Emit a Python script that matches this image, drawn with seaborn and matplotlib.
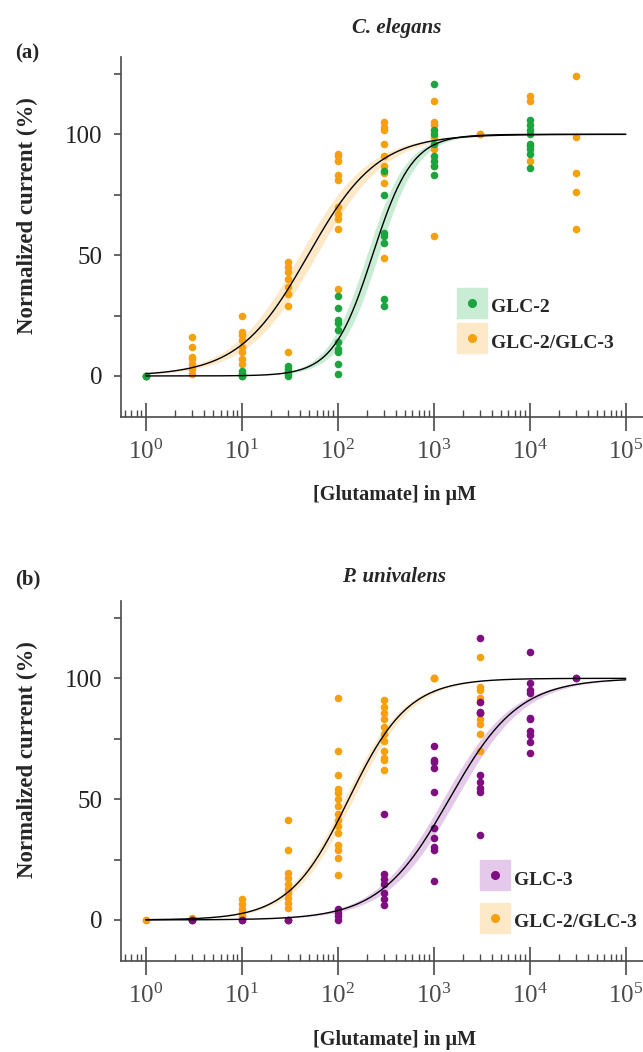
import numpy as np
import pandas as pd
import matplotlib
matplotlib.use('Agg')
import matplotlib.pyplot as plt
import seaborn as sns
from matplotlib.lines import Line2D
from matplotlib.legend_handler import HandlerTuple
from matplotlib.ticker import LogLocator, MultipleLocator, LogFormatterSciNotation, NullFormatter

sns.set_theme(style="ticks")
plt.rcParams['font.family'] = ['Liberation Serif', 'DejaVu Serif']
plt.rcParams['mathtext.fontset'] = 'stix'

# --- datos (concentraciones en µM, respuesta normalizada en %) ---
conc_levels = [1, 3, 10, 30, 100, 300, 1000, 3000, 10000, 30000]

# C. elegans
ce_glc2 = [[0, 0, 0], [], [0, 1, 2, 0, 1], [0, 1, 2, 3, 4],
           [33, 28, 23, 22, 19, 14, 11, 10, 5, 1],
           [85, 75, 59, 58, 55, 32, 29],
           [121, 102, 100, 96, 91, 89, 87, 83], [],
           [106, 104, 102, 100, 96, 95, 94, 92, 86], []]
ce_glc23 = [[0], [16, 12, 8, 7, 5, 3, 1], [25, 18, 17, 15, 12, 10, 7, 5],
            [47, 45, 43, 40, 37, 34, 29, 10],
            [92, 91, 89, 83, 81, 70, 67, 65, 61, 36],
            [105, 103, 102, 96, 91, 87, 84, 80, 49],
            [114, 105, 104, 99, 94, 87, 58], [100, 100],
            [116, 114, 89], [124, 99, 84, 76, 61]]

# P. univalens
pu_glc3 = [[], [0, 0], [0, 0], [0, 0], [4.4, 3, 1.6, 0],
           [44, 19, 17, 15, 11, 8.5, 6],
           [72, 66, 65.5, 63, 53, 38, 34, 30, 29, 16],
           [116.5, 90, 86, 85.5, 60, 57, 54.6, 53, 35],
           [111, 98, 95, 94, 83.5, 83, 78, 76.6, 73.5, 69], [100, 100]]
pu_glc23 = [[0, 0], [0, 1], [8.5, 6.5, 4.4, 3, 1.5],
            [41.5, 29, 19.5, 17.5, 15, 13, 11, 9, 7, 5, 0],
            [92, 70, 60, 54, 52.5, 50, 47, 44, 41.5, 39, 36, 31, 29, 25.5, 18.5],
            [91, 88, 85.5, 83, 80, 77, 74, 70, 67, 66, 62],
            [100, 100, 100], [109, 96.5, 95, 92, 90, 85.5, 83, 81, 77, 70], [], []]

# parámetros de ajuste Hill: EC50, pendiente, EC50 bajo/alto (banda)
fit_ce_glc2 = (230, 2.1, 200, 265)
fit_ce_glc23 = (49, 1.2, 40, 60)
fit_pu_glc3 = (1450, 1.2, 1250, 1700)
fit_pu_glc23 = (130, 1.4, 117, 145)

GREEN, ORANGE, PURPLE = '#1ea43f', '#f5a10f', '#7d0f80'
GREEN_B, ORANGE_B, PURPLE_B = '#c9ecd4', '#fde9c8', '#e5c9ea'
GRAY = '#4a4a4a'


def to_df(levels, values, name):
    rows = [(c, v, name) for c, vals in zip(levels, values) for v in vals]
    return pd.DataFrame(rows, columns=['conc', 'resp', 'grupo'])


def hill(x, ec50, n):
    return 100 * x ** n / (x ** n + ec50 ** n)


xs = np.logspace(0, 5, 300)


def draw_panel(ax, series):
    for vals, fit, col, band, name in series:
        ec50, n, lo, hi = fit
        ax.fill_between(xs, hill(xs, hi, n), hill(xs, lo, n), color=band, lw=0, zorder=1)
    for vals, fit, col, band, name in series:
        df = to_df(conc_levels, vals, name)
        sns.scatterplot(data=df, x='conc', y='resp', color=col, s=30, linewidth=0,
                        ax=ax, zorder=3, legend=False)
    for vals, fit, col, band, name in series:
        ec50, n, lo, hi = fit
        sns.lineplot(x=xs, y=hill(xs, ec50, n), color='black', lw=1.0, ax=ax, zorder=4)

    ax.set_xscale('log')
    ax.set_xlim(10 ** -0.26, 10 ** 5.18)
    ax.set_ylim(-17, 132)
    ax.set_xlabel('')
    ax.set_ylabel('')
    sns.despine(ax=ax)
    for s in ['left', 'bottom']:
        ax.spines[s].set_color(GRAY)
        ax.spines[s].set_linewidth(1.2)
    ax.xaxis.set_major_locator(LogLocator(base=10, numticks=10))
    ax.xaxis.set_minor_locator(LogLocator(base=10, subs=np.arange(2, 10), numticks=20))
    ax.xaxis.set_major_formatter(LogFormatterSciNotation())
    ax.xaxis.set_minor_formatter(NullFormatter())
    ax.set_xticks([1, 10, 100, 1000, 10000, 100000])
    ax.set_yticks([0, 50, 100])
    ax.yaxis.set_minor_locator(MultipleLocator(25))
    ax.tick_params(axis='x', which='major', direction='inout', length=20, width=1.2,
                   color=GRAY, labelsize=18, labelcolor=GRAY, pad=6)
    ax.tick_params(axis='x', which='minor', direction='in', length=5, width=1.0, color=GRAY)
    ax.tick_params(axis='y', which='both', direction='out', length=5, width=1.2,
                   color=GRAY, labelsize=18, labelcolor='#222222', pad=8)

    # leyenda: cuadro de color claro con el punto encima
    handles = []
    labels = []
    for vals, fit, col, band, name in series[::-1]:
        handles.append((Line2D([], [], marker='s', color=band, ls='none', markersize=22),
                        Line2D([], [], marker='o', color=col, ls='none', markersize=5.5)))
        labels.append(name)
    return handles, labels


fig = plt.figure(figsize=(6.43, 10.52), dpi=100)
ax1 = fig.add_axes([0.188, 0.6036, 0.812, 0.3422])
ax2 = fig.add_axes([0.188, 0.0865, 0.812, 0.3422])

h1, l1 = draw_panel(ax1, [(ce_glc23, fit_ce_glc23, ORANGE, ORANGE_B, 'GLC-2/GLC-3'),
                          (ce_glc2, fit_ce_glc2, GREEN, GREEN_B, 'GLC-2')])
h2, l2 = draw_panel(ax2, [(pu_glc23, fit_pu_glc23, ORANGE, ORANGE_B, 'GLC-2/GLC-3'),
                          (pu_glc3, fit_pu_glc3, PURPLE, PURPLE_B, 'GLC-3')])

leg_kw = dict(handler_map={tuple: HandlerTuple(ndivide=1, pad=0)}, handlelength=1.55,
              handleheight=1.6, frameon=False, prop=dict(weight='bold', size=14),
              handletextpad=0.2, loc='upper left', borderaxespad=0, borderpad=0)
ax1.legend(h1, l1, bbox_to_anchor=(0.643, 0.344), labelspacing=0.55, **leg_kw)
ax2.legend(h2, l2, bbox_to_anchor=(0.688, 0.264), labelspacing=0.9, **leg_kw)

# títulos, letras de panel y etiquetas de ejes
fig.text(0.617, 1 - 28 / 1052, 'C. elegans', ha='center', va='center',
         style='italic', weight='bold', fontsize=15)
fig.text(0.613, 1 - 577 / 1052, 'P. univalens', ha='center', va='center',
         style='italic', weight='bold', fontsize=15)
fig.text(0.023, 1 - 53 / 1052, '(a)', ha='left', va='center', weight='bold', fontsize=15)
fig.text(0.023, 1 - 579 / 1052, '(b)', ha='left', va='center', weight='bold', fontsize=15)
for yc in [216, 760]:
    fig.text(0.042, 1 - yc / 1052, 'Normalized current (%)', rotation=90, ha='center',
             va='center', weight='bold', fontsize=16.5)
for yc in [495, 1040]:
    fig.text(0.614, 1 - yc / 1052, '[Glutamate] in µM', ha='center', va='center',
             weight='bold', fontsize=14.5)

plt.savefig('out.png', dpi=100)
